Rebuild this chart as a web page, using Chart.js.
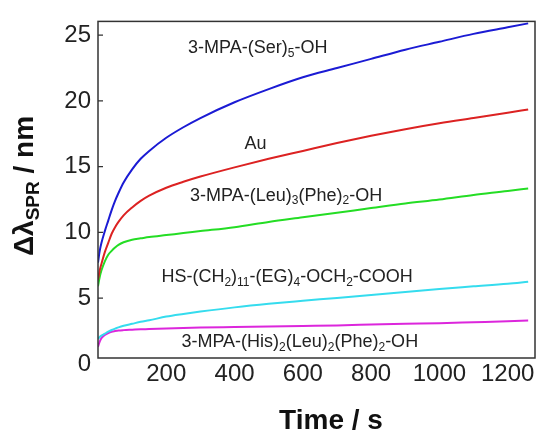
<!DOCTYPE html>
<html><head><meta charset="utf-8">
<script src="https://cdn.jsdelivr.net/npm/chart.js@4"></script>
<style>html,body{margin:0;padding:0;background:#fff;}canvas{display:block;}</style>
</head><body>
<canvas id="c" width="540" height="436"></canvas>
<script>
// Time axis (s)
const times = [0, 5, 10, 20, 30, 40, 50, 60, 75, 100, 125, 150, 200, 250, 300, 400, 500, 600, 700, 800, 900, 1000, 1100, 1200, 1260];
// Series values (nm)
const ser5 = [7.7, 8.6, 9.2, 10.1, 10.9, 11.7, 12.4, 13.0, 13.8, 14.8, 15.6, 16.2, 17.2, 18.0, 18.7, 19.9, 20.9, 21.8, 22.5, 23.2, 23.9, 24.5, 25.1, 25.6, 25.9];
const au = [6.4, 7.1, 7.6, 8.5, 9.2, 9.9, 10.4, 10.8, 11.3, 11.9, 12.4, 12.8, 13.4, 13.85, 14.25, 14.95, 15.6, 16.2, 16.8, 17.35, 17.85, 18.3, 18.7, 19.1, 19.35];
const leu3phe2 = [5.9, 6.6, 7.1, 7.8, 8.3, 8.6, 8.85, 9.05, 9.25, 9.45, 9.55, 9.65, 9.8, 9.95, 10.1, 10.4, 10.8, 11.15, 11.5, 11.85, 12.2, 12.5, 12.85, 13.15, 13.35];
const eg4 = [1.9, 2.05, 2.15, 2.3, 2.45, 2.58, 2.68, 2.78, 2.9, 3.05, 3.2, 3.32, 3.6, 3.8, 3.98, 4.3, 4.57, 4.8, 5.02, 5.25, 5.47, 5.7, 5.9, 6.1, 6.25];
const his2 = [1.3, 1.7, 1.95, 2.2, 2.35, 2.45, 2.5, 2.54, 2.57, 2.6, 2.63, 2.65, 2.7, 2.74, 2.77, 2.81, 2.85, 2.89, 2.93, 2.99, 3.05, 3.1, 3.17, 3.24, 3.3];
// Tick values
const xTicks = [200, 400, 600, 800, 1000, 1200];
const yTicks = [0, 5, 10, 15, 20, 25];
// Curve labels: segments [text, subscript?] and data position (t, nm)
const labelTexts = [
  [["3-MPA-(Ser)",0],["5",1],["-OH",0]],
  [["Au",0]],
  [["3-MPA-(Leu)",0],["3",1],["(Phe)",0],["2",1],["-OH",0]],
  [["HS-(CH",0],["2",1],[")",0],["11",1],["-(EG)",0],["4",1],["-OCH",0],["2",1],["-COOH",0]],
  [["3-MPA-(His)",0],["2",1],["(Leu)",0],["2",1],["(Phe)",0],["2",1],["-OH",0]]
];
const labelT = [468, 461, 551, 554, 591];
const labelV = [24.0, 16.7, 12.8, 6.6, 1.65];

const colors = ['#1b1bd4', '#dc2222', '#24dd24', '#35dcee', '#dc26dc'];
const series = [ser5, au, leu3phe2, eg4, his2];

const FONT = "'Liberation Sans', Arial, sans-serif";

function drawRich(ctx, segs, cx, cy, size, bold) {
  const subSize = Math.round(size * 0.68);
  const w = segs.reduce((a, s) => {
    ctx.font = (bold ? 'bold ' : '') + (s[1] ? subSize : size) + 'px ' + FONT;
    return a + ctx.measureText(s[0]).width;
  }, 0);
  let x = cx - w / 2;
  ctx.textBaseline = 'middle';
  ctx.textAlign = 'left';
  for (const s of segs) {
    ctx.font = (bold ? 'bold ' : '') + (s[1] ? subSize : size) + 'px ' + FONT;
    ctx.fillText(s[0], x, cy + (s[1] ? size * 0.3 : 0));
    x += ctx.measureText(s[0]).width;
  }
}

const decor = {
  id: 'decor',
  afterDraw(chart) {
    const ctx = chart.ctx, a = chart.chartArea;
    const xs = chart.scales.x, ys = chart.scales.y;
    ctx.save();
    ctx.strokeStyle = '#333';
    ctx.lineWidth = 1.5;
    ctx.strokeRect(a.left, a.top, a.right - a.left, a.bottom - a.top);
    ctx.lineWidth = 1.2;
    ctx.beginPath();
    for (const v of yTicks) {
      const p = ys.getPixelForValue(v);
      if (p < a.top || p > a.bottom) continue;
      ctx.moveTo(a.left, p); ctx.lineTo(a.left + 5, p);
    }
    ctx.stroke();
    ctx.fillStyle = '#222';
    for (let i = 0; i < labelTexts.length; i++) {
      drawRich(ctx, labelTexts[i], xs.getPixelForValue(labelT[i]), ys.getPixelForValue(labelV[i]), 18, false);
    }
    ctx.fillStyle = '#111';
    ctx.font = 'bold 28px ' + FONT;
    ctx.textAlign = 'center';
    ctx.textBaseline = 'middle';
    ctx.fillText('Time / s', 331, 421);
    ctx.translate(25, 186);
    ctx.rotate(-Math.PI / 2);
    drawRich(ctx, [["\u0394\u03bb",0],["SPR",1],[" / nm",0]], 0, 0, 28, true);
    ctx.restore();
  }
};

new Chart(document.getElementById('c'), {
  type: 'line',
  data: {
    datasets: series.map((s, i) => ({
      data: times.map((t, j) => ({x: t, y: s[j]})),
      borderColor: colors[i],
      borderWidth: 2,
      pointRadius: 0,
      fill: false,
      cubicInterpolationMode: 'monotone'
    }))
  },
  options: {
    responsive: false,
    animation: false,
    devicePixelRatio: 1,
    layout: {padding: {top: 14, right: 5, left: 0, bottom: 0}},
    plugins: {legend: {display: false}, tooltip: {enabled: false}},
    scales: {
      x: {
        type: 'linear', min: 0, max: 1280,
        afterBuildTicks: s => { s.ticks = xTicks.map(v => ({value: v})); },
        afterFit: s => { s.height = 78; },
        grid: {display: false, tickLength: 0}, border: {display: false},
        ticks: {color: '#222', font: {family: FONT, size: 24}, padding: 2, maxRotation: 0, autoSkip: false,
                callback: v => String(v)}
      },
      y: {
        min: 0.45, max: 26.05,
        afterBuildTicks: s => { s.ticks = yTicks.map(v => ({value: v})); },
        afterFit: s => { s.width = 98; },
        grid: {display: false, tickLength: 0}, border: {display: false},
        ticks: {color: '#222', font: {family: FONT, size: 24}, padding: 7, autoSkip: false,
                callback: v => String(v)}
      }
    }
  },
  plugins: [decor]
});
</script>
</body></html>
